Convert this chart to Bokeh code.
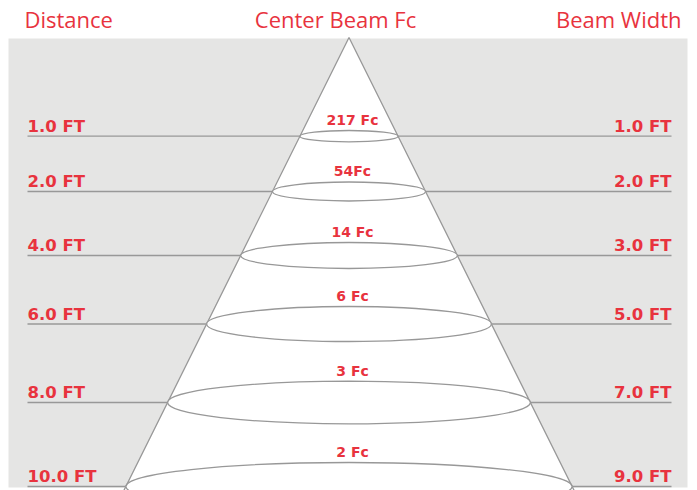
from bokeh.plotting import figure
from bokeh.models import Range1d, ColumnDataSource
from bokeh.embed import file_html
from bokeh.resources import INLINE
from bokeh.core.properties import value

# ---- chart content ----
distances = ["1.0 FT", "2.0 FT", "4.0 FT", "6.0 FT", "8.0 FT", "10.0 FT"]
beam_widths = ["1.0 FT", "2.0 FT", "3.0 FT", "5.0 FT", "7.0 FT", "9.0 FT"]
center_fc = ["217 Fc", "54Fc", "14 Fc", "6 Fc", "3 Fc", "2 Fc"]
headers = ["Distance", "Center Beam Fc", "Beam Width"]

# ---- schematic layout (screen pixels) ----
level_y = [135.7, 191, 255, 323.5, 402, 486]
ellipse_ry = [5.7, 9.5, 13, 17.5, 21.3, 24]
APEX_X, APEX_Y, SLOPE = 348.5, 37.0, 0.497

RED = "#e8333e"
GRAY_BG = "#e5e5e4"
LINE = "#989898"
BOLD_FONT = value("DejaVu Sans")
HEAD_FONT = value("Open Sans")
LBL, FCS, HDS = 16.5, 14, 22
SH = 0.4  # baseline correction (fraction of font size)

half = [SLOPE * (y - APEX_Y) for y in level_y]

p = figure(width=697, height=490, output_backend="svg", toolbar_location=None,
           x_range=Range1d(0, 697), y_range=Range1d(490, 0), min_border=0)
p.axis.visible = False
p.grid.visible = False
p.outline_line_color = None
p.background_fill_color = "white"
p.border_fill_color = "white"

# gray panel
p.quad(left=[8], right=[687], top=[38], bottom=[487], fill_color=GRAY_BG, line_color=None)

# beam triangle
base_y = 520
bh = SLOPE * (base_y - APEX_Y)
p.patch(x=[APEX_X, APEX_X - bh, APEX_X + bh], y=[APEX_Y, base_y, base_y],
        fill_color="white", line_color=LINE, line_width=1.3)

src = ColumnDataSource(dict(
    y=level_y,
    lx0=[27] * len(level_y),
    lx1=[APEX_X - h for h in half],
    rx0=[APEX_X + h for h in half],
    rx1=[671] * len(level_y),
    w=[2 * h for h in half],
    h=[2 * r for r in ellipse_ry],
    dist=distances,
    beam=beam_widths,
    fc=center_fc,
    ty=[y - 3 - SH * LBL for y in level_y],
    fy=[y - r - 5 - SH * FCS for y, r in zip(level_y, ellipse_ry)],
))
p.segment(x0="lx0", y0="y", x1="lx1", y1="y", source=src, line_color=LINE, line_width=1.3)
p.segment(x0="rx0", y0="y", x1="rx1", y1="y", source=src, line_color=LINE, line_width=1.3)

p.ellipse(x=APEX_X, y="y", width="w", height="h", source=src,
          fill_color="white", line_color=LINE, line_width=1.3)

p.text(x=27, y="ty", text="dist", source=src, text_color=RED, text_font=BOLD_FONT,
       text_font_style="bold", text_font_size=f"{LBL}px", text_align="left",
       text_baseline="alphabetic")
p.text(x=671, y="ty", text="beam", source=src, text_color=RED, text_font=BOLD_FONT,
       text_font_style="bold", text_font_size=f"{LBL}px", text_align="right",
       text_baseline="alphabetic")
p.text(x=352, y="fy", text="fc", source=src, text_color=RED, text_font=BOLD_FONT,
       text_font_style="bold", text_font_size=f"{FCS}px", text_align="center",
       text_baseline="alphabetic")

hy = 26 - SH * HDS + 1
p.text(x=[24, 335, 681], y=[hy, hy, hy], text=headers, text_color=RED, text_font=HEAD_FONT,
       text_font_size=f"{HDS}px", text_align=["left", "center", "right"],
       text_baseline="alphabetic")

open("out.html", "w").write(file_html(p, INLINE))
